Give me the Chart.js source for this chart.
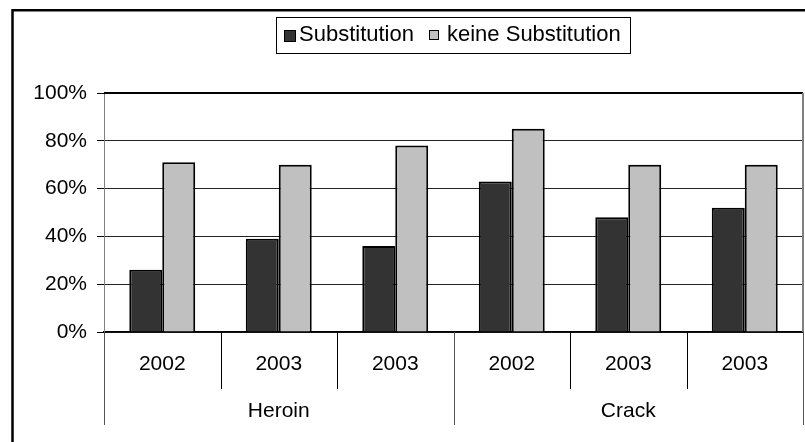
<!DOCTYPE html>
<html lang="de">
<head>
  <meta charset="UTF-8">
  <title>Substitution</title>
  <script src="https://cdn.jsdelivr.net/npm/chart.js"></script>
  <style>
    body { margin: 0; background: #fff; }
    canvas { display: block; }
  </style>
</head>
<body>

<canvas id="barChart" width="805" height="442"></canvas>

<script>
  const years = ['2002', '2003', '2003', '2002', '2003', '2003'];
  const groups = ['Heroin', 'Crack'];
  const groupSizes = [3, 3];
  const substitution = [26, 39, 36, 63, 48, 52];
  const keineSubstitution = [71, 70, 78, 85, 70, 70];
  const yTicks = [0, 20, 40, 60, 80, 100];

  const FONT = '"Liberation Sans", Arial, sans-serif';

  // frame, legend box, year separators and group labels
  const decorations = {
    id: 'decorations',
    afterDraw(chart) {
      const ctx = chart.ctx;
      const area = chart.chartArea;
      const x = chart.scales.x;
      ctx.save();

      // outer frame (cut off at right/bottom)
      ctx.strokeStyle = '#000';
      ctx.lineWidth = 2.5;
      ctx.beginPath();
      ctx.moveTo(12.5, 450);
      ctx.lineTo(12.5, 10.3);
      ctx.lineTo(810, 10.3);
      ctx.stroke();

      // plot area border: top black, right grey
      ctx.lineWidth = 2;
      ctx.beginPath();
      ctx.moveTo(area.left, area.top);
      ctx.lineTo(area.right, area.top);
      ctx.stroke();
      ctx.strokeStyle = '#808080';
      ctx.beginPath();
      ctx.moveTo(area.right, area.top);
      ctx.lineTo(area.right, area.bottom);
      ctx.stroke();

      // category separators below the axis
      const step = x.getPixelForValue(1) - x.getPixelForValue(0);
      const bounds = [];
      for (let i = 0; i <= years.length; i++) {
        bounds.push(x.getPixelForValue(i) - step / 2);
      }
      const groupEdges = [0];
      groupSizes.forEach(n => groupEdges.push(groupEdges[groupEdges.length - 1] + n));

      ctx.lineWidth = 1;
      bounds.forEach((bx, i) => {
        const isGroup = groupEdges.includes(i);
        ctx.strokeStyle = isGroup ? '#555' : '#000';
        ctx.beginPath();
        ctx.moveTo(Math.round(bx) + 0.5, area.bottom);
        ctx.lineTo(Math.round(bx) + 0.5, isGroup ? 425 : 389);
        ctx.stroke();
      });

      // group labels
      ctx.fillStyle = '#000';
      ctx.font = '21px ' + FONT;
      ctx.textAlign = 'center';
      ctx.textBaseline = 'alphabetic';
      groups.forEach((g, i) => {
        const cx = (bounds[groupEdges[i]] + bounds[groupEdges[i + 1]]) / 2;
        ctx.fillText(g, cx, 416.5);
      });

      // legend box
      ctx.strokeStyle = '#000';
      ctx.lineWidth = 1;
      ctx.strokeRect(276.5, 17.5, 354, 36);
      ctx.font = '22px ' + FONT;
      ctx.textAlign = 'left';
      const items = [
        { mx: 284, my: 30, ms: 12, tx: 299 },
        { mx: 429, my: 30, ms: 10, tx: 447 }
      ];
      chart.data.datasets.forEach((ds, i) => {
        const it = items[i];
        ctx.fillStyle = ds.backgroundColor;
        ctx.fillRect(it.mx, it.my, it.ms, it.ms);
        ctx.strokeStyle = '#000';
        ctx.strokeRect(it.mx + 0.5, it.my + 0.5, it.ms - 1, it.ms - 1);
        ctx.fillStyle = '#000';
        ctx.fillText(ds.label, it.tx, 41);
      });

      ctx.restore();
    }
  };

  const ctx = document.getElementById('barChart').getContext('2d');
  new Chart(ctx, {
    type: 'bar',
    data: {
      labels: years,
      datasets: [
        {
          label: 'Substitution',
          data: substitution,
          backgroundColor: '#333333',
          borderColor: '#000',
          borderWidth: 2
        },
        {
          label: 'keine Substitution',
          data: keineSubstitution,
          backgroundColor: '#c0c0c0',
          borderColor: '#000',
          borderWidth: 2
        }
      ]
    },
    options: {
      responsive: false,
      animation: false,
      datasets: {
        bar: { categoryPercentage: 0.566, barPercentage: 1 }
      },
      layout: { padding: { left: 0, top: 93, right: 2, bottom: 0 } },
      plugins: {
        legend: { display: false },
        tooltip: { enabled: false }
      },
      scales: {
        x: {
          afterFit: s => { s.height = 110; },
          grid: { display: false },
          border: { display: true, color: '#000', width: 1.5 },
          ticks: {
            color: '#000',
            padding: 12,
            font: { family: FONT, size: 21 }
          }
        },
        y: {
          min: 0,
          max: 100,
          afterFit: s => { s.width = 104; },
          afterBuildTicks: s => { s.ticks = yTicks.map(v => ({ value: v })); },
          grid: { color: '#222', lineWidth: 1, tickLength: 7, tickColor: '#000' },
          border: { color: '#808080', width: 1 },
          ticks: {
            color: '#000',
            padding: 10,
            font: { family: FONT, size: 21 },
            callback: v => v + '%'
          }
        }
      }
    },
    plugins: [decorations]
  });
</script>

</body>
</html>
